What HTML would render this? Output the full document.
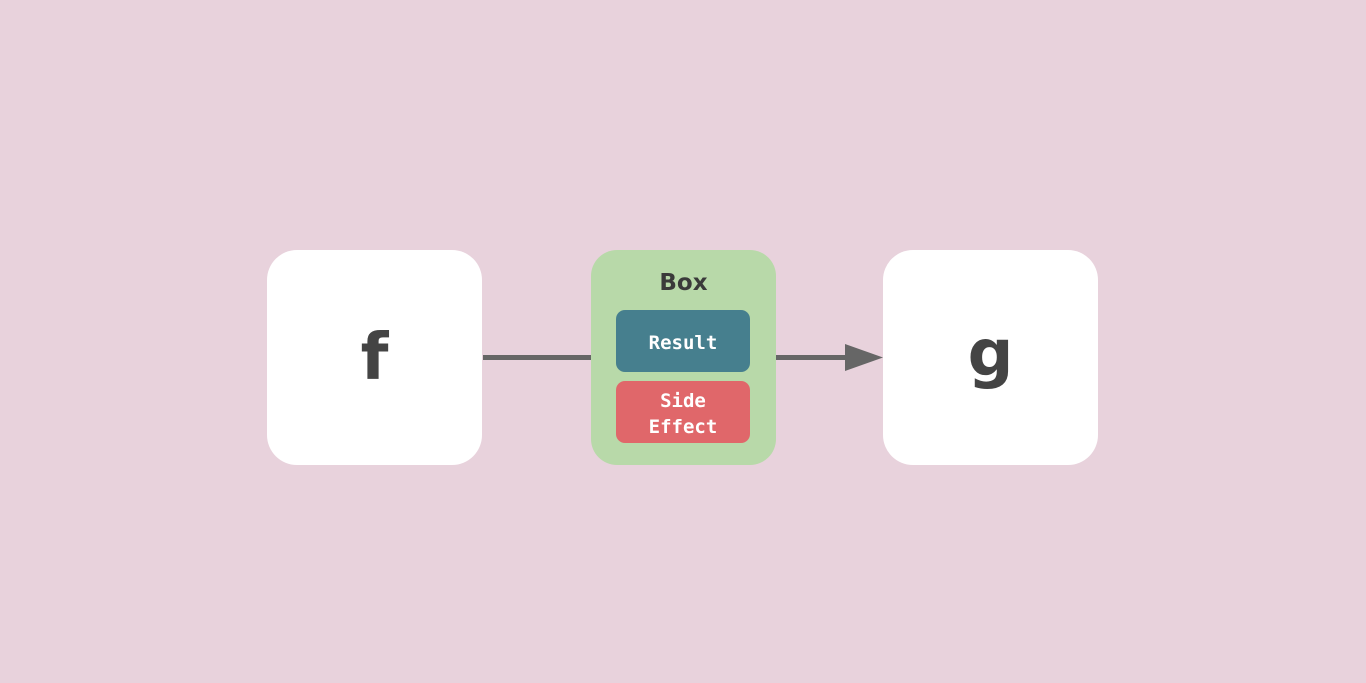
<!DOCTYPE html>
<html><head><style>
body{margin:0;width:1366px;height:683px;background:#e8d2dc;position:relative;overflow:hidden;font-family:"Liberation Sans",sans-serif}
.b{position:absolute;background:#fff;border-radius:30px;width:215px;height:215px;top:250px;display:flex;align-items:center;justify-content:center;font-family:"DejaVu Sans",sans-serif;font-weight:bold;font-size:64px;color:#444}
.g{position:absolute;left:591px;top:250px;width:185px;height:215px;background:#b8d9a9;border-radius:26px}
.t{position:absolute;left:0;width:185px;top:20px;text-align:center;font-family:"DejaVu Sans",sans-serif;font-weight:bold;font-size:23px;color:#3a3a3a}
.r{position:absolute;left:25px;width:134px;height:62px;border-radius:9px;color:#fff;font-family:"DejaVu Sans Mono","Liberation Mono",monospace;font-weight:bold;font-size:19px;display:flex;align-items:center;justify-content:center;text-align:center;line-height:26px;padding-top:4px;box-sizing:border-box}
</style></head><body>
<div class="b" style="left:267px">f</div>
<div class="b" style="left:883px;padding-bottom:8px;box-sizing:border-box">g</div>
<div style="position:absolute;left:483px;top:355px;width:108px;height:5px;background:#666"></div>
<div style="position:absolute;left:776px;top:355px;width:72px;height:5px;background:#666"></div>
<svg style="position:absolute;left:845px;top:344px" width="40" height="28"><polygon points="0,0 38,13.5 0,27" fill="#666"/></svg>
<div class="g"><div class="t">Box</div>
<div class="r" style="top:60px;background:#467f8e">Result</div>
<div class="r" style="top:131px;background:#e0676a">Side<br>Effect</div>
</div>
</body></html>
